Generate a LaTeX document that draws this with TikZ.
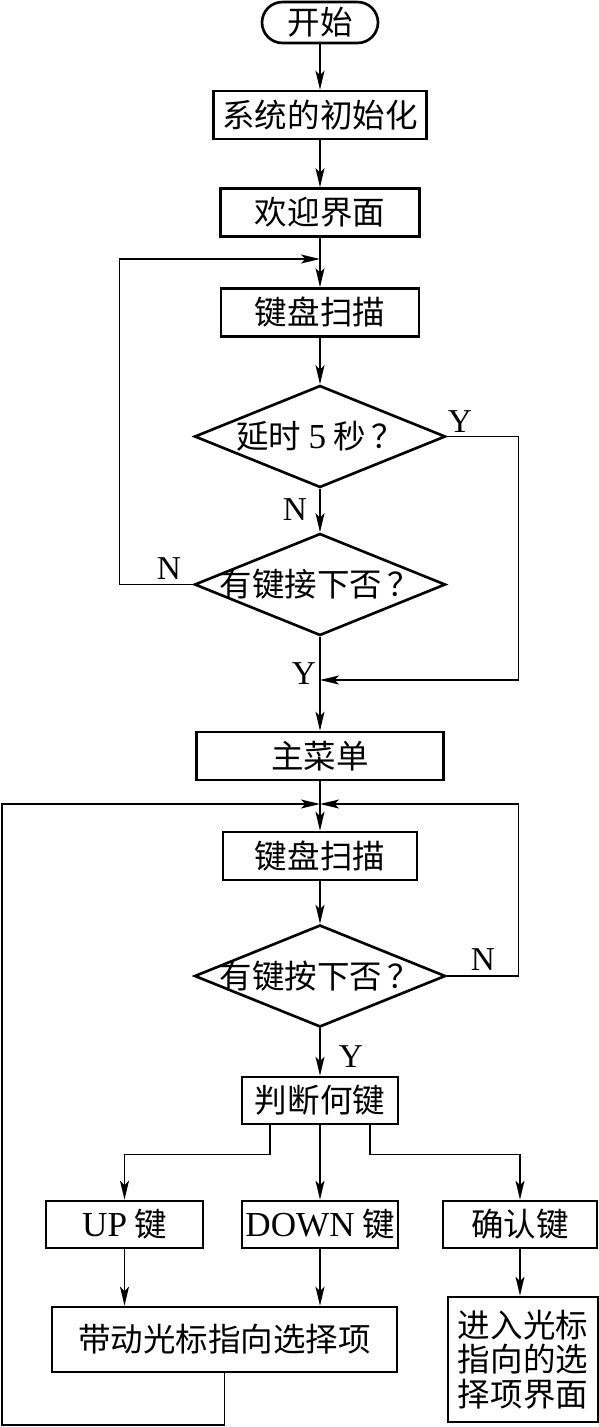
\documentclass[tikz,border=0pt]{standalone}
\usepackage{fontspec}
\setmainfont{Liberation Serif}
\newfontfamily\cjk{Noto Sans CJK SC}
\usetikzlibrary{arrows.meta,shapes.geometric}

\newcommand{\lat}[1]{{\rmfamily\fontsize{20}{20}\selectfont #1}}

\tikzset{
  flow/.style={draw, line width=1.5pt, font=\cjk\fontsize{18.5}{19.5}\selectfont, inner sep=0pt},
  box/.style={flow, rectangle, minimum height=0.96cm},
  dec/.style={flow, diamond, aspect=2.5, inner sep=-14pt, minimum width=5.02cm, minimum height=2.04cm},
  yn/.style={font=\fontsize{19}{20}\selectfont, inner sep=0pt},
  line/.style={line width=0.7pt},
  arr/.style={line, -{Stealth[length=0.38cm,width=0.18cm,inset=0.09cm]}},
}

\begin{document}
\begin{tikzpicture}
  \useasboundingbox (0,0) rectangle (11.98,-28.54);

  % --- blocchi ---
  \node[flow, rectangle, rounded corners=0.41cm, minimum width=2.32cm, minimum height=0.82cm] (start) at (6.4,-0.45) {开始};
  \node[box, minimum width=4.26cm] (init) at (6.4,-2.30) {系统的初始化};
  \node[box, minimum width=3.98cm] (welcome) at (6.4,-4.25) {欢迎界面};
  \node[box, minimum width=3.96cm] (scan1) at (6.4,-6.25) {键盘扫描};
  \node[dec] (delay) at (6.4,-8.73) {延时 \lat{5} 秒\,？};
  \node[dec] (key1) at (6.4,-11.69) {有键接下否\,？};
  \node[box, minimum width=4.94cm] (menu) at (6.4,-15.12) {主菜单};
  \node[box, minimum width=3.88cm] (scan2) at (6.4,-17.12) {键盘扫描};
  \node[dec] (key2) at (6.4,-19.52) {有键按下否\,？};
  \node[box, minimum width=3.12cm, minimum height=0.94cm] (judge) at (6.4,-22.01) {判断何键};
  \node[box, minimum width=3.14cm, minimum height=0.94cm] (up) at (2.49,-24.49) {\lat{UP} 键};
  \node[box, minimum width=3.12cm, minimum height=0.94cm] (down) at (6.4,-24.49) {\lat{DOWN} 键};
  \node[box, minimum width=3.08cm, minimum height=0.94cm] (ok) at (10.40,-24.49) {确认键};
  \node[box, minimum width=6.90cm, minimum height=1.30cm] (move) at (4.49,-26.79) {带动光标指向选择项};
  \node[box, minimum width=3.00cm, minimum height=2.50cm, align=center] (enter) at (10.46,-27.19) {进入光标\\指向的选\\择项界面};

  % --- punti di giunzione ---
  \coordinate (j1) at (6.4,-5.18);
  \coordinate (j2) at (6.4,-13.60);
  \coordinate (j3) at (6.4,-16.08);
  \coordinate (lb) at (0.04,-28.50);

  % --- frecce principali ---
  \draw[arr] (start) -- (init);
  \draw[arr] (init) -- (welcome);
  \draw[arr] (welcome) -- (scan1);
  \draw[arr] (scan1) -- (delay);
  \draw[arr] (delay) -- (key1);
  \draw[arr] (key1) -- (menu);
  \draw[arr] (menu) -- (scan2);
  \draw[arr] (scan2) -- (key2);
  \draw[arr] (key2) -- (judge);

  % --- ritorni ---
  \draw[arr] (key1.west) -- ++(-1.48,0) |- (j1);
  \draw[arr] (delay.east) -- ++(1.44,0) |- (j2);
  \draw[arr] (key2.east) -- ++(1.44,0) |- (j3);
  \draw[arr] (move.south) |- (lb) |- (j3);

  % --- diramazioni ---
  \draw[arr] ([xshift=-1cm]judge.south) -- ++(0,-0.58) -| (up);
  \draw[arr] (judge) -- (down);
  \draw[arr] ([xshift=1cm]judge.south) -- ++(0,-0.58) -| (ok);
  \draw[arr] (up) -- (up |- move.north);
  \draw[arr] (down) -- (down |- move.north);
  \draw[arr] (ok) -- (ok |- enter.north);

  % --- etichette Y/N ---
  \node[yn] (ydelay) at (9.20,-8.44) {Y};
  \node[yn] (ndelay) at (5.90,-10.20) {N};
  \node[yn] (nkey1) at (3.38,-11.38) {N};
  \node[yn] (ykey1) at (6.08,-13.48) {Y};
  \node[yn] (nkey2) at (9.66,-19.20) {N};
  \node[yn] (ykey2) at (7.02,-21.14) {Y};

\end{tikzpicture}
\end{document}
